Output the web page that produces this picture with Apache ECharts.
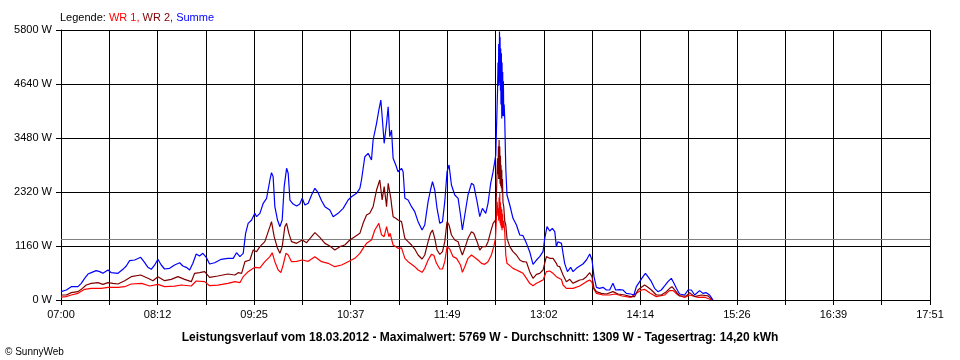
<!DOCTYPE html>
<html>
<head>
<meta charset="utf-8">
<script src="https://cdn.jsdelivr.net/npm/echarts@6/dist/echarts.min.js"></script>
<style>html,body{margin:0;padding:0;background:#fff}#c{width:960px;height:360px}</style>
</head>
<body>
<div id="c"></div>
<script>
// Time axis: minutes after 07:00 (axis 07:00 .. 17:51)
const startMin = 420;
const endMin = 651;
const tickCount = 18;
const yTicks = [0, 1160, 2320, 3480, 4640, 5800];
const avgW = 1309;
const titleText = 'Leistungsverlauf vom 18.03.2012 - Maximalwert: 5769 W - Durchschnitt: 1309 W - Tagesertrag: 14,20 kWh';
const seriesNames = ['WR 1', 'WR 2', 'Summe'];

// Summe (blue)
const sumMin = [0,4.0,7.7,12.7,15.2,17.7,20.2,22.7,26.4,29.0,31.4,35.2,37.7,42.7,46.4,48.9,51.4,55.2,59.7,62.7,65.1,67.6,70.2,72.6,75.1,77.6,81.4,85.1,88.9,91.3,93.8,96.4,98.8,101.3,103.8,106.3,108.8,111.3,115.1,120.0,125.0,129.0,131.5,134.0,136.5,138.3,140.2,142.8,145.2,146.5,149.0,151.5,154.0,156.5,157.7,158.9,160.2,162.2,164.0,165.7,167.2,169.0,170.2,171.5,173.9,176.5,178.9,180.7,182.7,185.2,187.7,190.2,192.6,195.2,197.7,201.4,203.9,207.6,211.4,215.1,217.6,221.4,223.9,225.1,227.6,230.1,232.6,233.8,236.4,238.1,239.6,240.6,242.1,243.9,245.1,246.3,247.6,248.8,250.8,252.5,255.1,256.3,257.6,260.0,262.6,265.0,267.5,270.5,272.5,275.0,276.8,278.3,280.0,281.7,283.8,285.8,287.5,289.2,290.7,292.5,295.0,297.5,299.3,300.7,302.5,304.9,307.5,309.2,311.7,313.7,315.7,318.2,319.9,321.9,323.7,325.7,327.0,327.4,327.7,327.9,328.2,328.5,328.7,328.9,329.2,329.4,329.6,329.9,330.2,330.4,330.7,330.9,331.1,331.4,331.7,332.0,332.4,333.2,334.1,336.2,338.6,341.2,343.7,346.1,348.7,351.1,353.6,356.2,358.6,361.1,362.4,364.1,366.1,368.1,369.9,371.1,372.3,374.9,377.3,379.4,381.8,383.6,386.1,388.6,391.0,393.6,396.1,397.8,399.3,401.1,403.5,406.0,408.6,411.0,413.5,415.5,418.5,421.0,423.5,426.8,429.2,431.0,433.5,436.0,437.8,439.7,442.3,444.7,447.2,449.7,452.2,454.7,457.2,459.2,461.0,463.4,467.2,469.7,472.2,474.7,478.4,480.9,483.4,485.9,487.6,488.4];
const sumW = [180,215,286,286,358,466,558,587,630,609,573,644,587,573,659,730,845,859,917,801,702,659,752,874,752,666,680,752,801,730,702,644,788,988,945,1003,917,773,801,874,895,895,1016,931,1003,1432,1647,1718,1862,1790,1862,2077,2184,2578,2735,2650,2005,1718,1575,1718,2434,2829,2722,2148,2062,2019,2062,2184,2041,2080,2255,2399,2305,2133,2005,1933,1790,1862,1969,2148,2219,2292,2399,2578,3078,3150,3007,3437,3795,4081,4296,3937,3366,3795,4152,3508,3651,3043,2900,2756,2829,2756,2184,2148,2005,1897,1683,1504,1611,2112,2363,2541,2363,1969,1647,1683,2112,2756,2900,2470,2255,2184,1826,1504,1826,2255,2506,2470,2112,1790,1969,1862,2077,2506,2756,3114,4474,5100,4600,5500,4650,5769,4700,5650,4500,5400,4200,5300,3900,5100,4000,4900,3950,4700,3950,4200,3900,2829,2255,2041,1755,1611,1396,1382,1217,1038,766,859,931,1038,1325,1575,1482,1540,1468,1146,1253,1217,788,609,702,609,680,730,773,859,988,859,501,272,251,272,215,215,358,215,222,215,143,129,107,286,394,501,573,501,394,251,179,215,301,394,466,358,251,129,107,215,215,107,201,143,158,107,36,0];

// WR 2 (dark red)
const wr2Min = [0,4.0,7.7,12.7,15.2,18.9,22.7,27.7,31.4,35.2,38.9,42.7,47.7,52.6,59.7,65.1,68.9,72.6,77.6,82.6,87.6,92.6,97.6,100.1,103.8,107.6,111.3,117.5,125.0,130.3,132.7,135.3,137.8,141.5,144.0,146.5,149.0,152.7,156.5,157.7,159.7,162.2,164.0,165.7,167.7,169.0,170.7,172.7,176.5,180.7,184.0,187.7,190.2,193.9,197.7,201.4,205.1,208.9,212.6,216.4,220.1,223.9,226.3,228.9,231.3,233.8,236.4,238.8,240.6,242.1,243.9,245.1,247.1,247.8,248.8,250.8,252.5,255.1,257.6,260.0,262.6,265.0,267.5,270.5,272.5,275.0,276.8,278.3,280.0,281.7,283.8,285.8,287.5,289.2,290.7,292.5,295.0,297.5,299.3,300.7,302.5,304.9,307.5,309.2,311.7,313.7,315.7,318.2,319.9,321.9,323.7,325.5,326.4,327.0,327.4,327.7,327.9,328.2,328.5,328.7,328.9,329.2,329.4,329.6,329.9,330.2,330.4,330.7,331.1,331.7,332.4,333.2,334.1,336.2,338.6,341.2,343.7,346.1,348.7,351.1,353.6,356.2,358.6,361.1,363.6,366.1,368.6,369.9,371.1,371.9,373.6,376.1,378.6,381.1,383.6,386.1,388.6,391.0,393.6,396.1,397.8,399.3,401.1,404.8,408.6,413.5,417.3,422.3,426.8,429.7,432.2,434.8,437.2,439.7,442.3,446.0,449.7,453.5,456.0,457.7,459.7,463.4,468.5,470.9,474.7,479.7,484.6,487.6];
const wr2W = [107,107,158,180,229,322,358,372,337,372,358,344,415,501,537,466,415,501,415,444,501,444,394,573,587,609,487,516,558,537,587,573,823,859,1074,1038,1146,1253,1575,1683,1360,1110,1003,1146,1575,1647,1432,1253,1217,1289,1230,1360,1446,1346,1217,1160,1074,1146,1181,1289,1360,1432,1647,1826,1862,2005,2363,2578,2148,2434,2005,2506,2184,2005,1790,1755,1720,1683,1325,1253,1181,1095,967,881,967,1253,1432,1504,1325,1074,981,1038,1253,1683,1611,1396,1289,1253,1074,967,1110,1325,1468,1432,1253,1074,1146,1146,1253,1468,1647,1718,2470,3043,2700,3300,2600,3437,2600,3300,2500,3100,2450,2900,2400,2800,2300,2600,2100,2000,1700,1611,1325,1146,1038,967,859,823,816,609,466,552,573,644,931,895,895,931,788,730,716,537,394,444,358,394,430,440,501,587,501,251,179,143,129,179,129,107,72,72,215,272,322,272,215,107,107,179,251,286,215,86,86,158,72,107,90,14];

// WR 1 (red)
const wr1Min = [0,3.7,7.7,12.7,17.7,22.7,30.2,35.2,42.7,47.7,52.6,60.4,66.4,72.6,77.6,85.1,90.1,97.6,101.3,107.6,111.3,117.5,125.0,130.3,134.0,136.5,140.2,145.2,149.0,152.7,156.5,158.2,160.2,162.7,164.7,166.4,168.5,170.2,172.7,176.5,180.7,185.2,190.2,195.2,200.1,205.1,210.2,215.1,220.1,223.9,226.3,228.9,232.6,235.1,238.1,240.1,242.1,243.9,245.6,246.6,247.8,248.8,250.1,252.5,255.1,257.6,260.0,262.6,265.0,267.5,270.5,272.5,275.0,277.5,279.3,281.3,283.8,285.8,287.5,289.2,291.2,293.7,296.3,299.3,300.7,302.5,304.9,307.5,309.2,312.4,315.0,317.4,319.9,322.4,324.2,325.5,326.7,327.4,327.7,327.9,328.2,328.5,328.7,328.9,329.2,329.4,329.6,329.9,330.2,330.4,330.7,331.1,331.7,332.4,333.2,334.1,336.2,338.6,341.2,343.7,346.1,348.7,351.1,353.6,356.2,358.6,361.1,363.6,366.1,368.6,369.9,371.1,372.3,374.9,376.1,378.6,383.6,388.6,393.6,396.1,397.8,398.8,401.1,406.0,411.0,415.3,420.3,426.8,431.0,434.8,437.2,441.5,446.0,452.2,455.8,458.5,462.2,467.2,471.0,477.2,482.2,487.6];
const wr1W = [60,72,107,143,229,251,251,272,272,286,344,358,301,337,286,300,322,301,408,394,308,320,358,394,372,501,609,702,690,823,931,1016,823,644,587,752,1003,967,823,830,859,830,931,823,788,716,752,823,895,1003,1110,1217,1289,1504,1647,1400,1360,1575,1360,1432,1289,1181,1146,1110,1120,895,823,766,716,644,595,680,859,981,960,788,666,666,823,1146,1095,931,895,752,595,716,895,967,931,859,788,766,823,967,1146,1325,2112,1800,1969,1700,2200,1750,2292,1650,2100,1600,2000,1550,1950,1500,1850,1550,1700,1468,967,788,738,680,644,609,573,466,358,308,358,394,430,609,623,573,537,501,466,440,322,251,251,300,394,430,380,258,143,107,107,129,86,57,143,215,229,143,72,107,201,201,107,57,107,57,60,0];

const colors = ['#ff0000', '#800000', '#0000ff'];
const FONT = '"Liberation Sans", Arial, sans-serif';

function pairs(t, v) { return t.map((x, i) => [x, v[i]]); }
function fmtTime(m) {
  const total = Math.round(startMin + m);
  const h = Math.floor(total / 60), mm = total % 60;
  return String(h).padStart(2, '0') + ':' + String(mm).padStart(2, '0');
}
const step = endMin / tickCount;

const chart = echarts.init(document.getElementById('c'), null, { renderer: 'canvas' });
chart.setOption({
  animation: false,
  backgroundColor: '#ffffff',
  title: [{
    left: 60, top: 12, padding: 0,
    text: '{k|Legende: }{a|' + seriesNames[0] + ', }{b|' + seriesNames[1] + ', }{c|' + seriesNames[2] + '}',
    textStyle: { fontWeight: 'normal', fontSize: 11, fontFamily: FONT, rich: {
      k: { color: '#000', fontSize: 11, fontWeight: 'normal', fontFamily: FONT },
      a: { color: colors[0], fontSize: 11, fontWeight: 'normal', fontFamily: FONT },
      b: { color: colors[1], fontSize: 11, fontWeight: 'normal', fontFamily: FONT },
      c: { color: colors[2], fontSize: 11, fontWeight: 'normal', fontFamily: FONT }
    } }
  }, {
    left: 'center', top: 332, padding: 0,
    text: titleText,
    textStyle: { color: '#000', fontSize: 12, fontWeight: 'bold', fontFamily: FONT }
  }, {
    left: 5, top: 347, padding: 0,
    text: '© SunnyWeb',
    textStyle: { color: '#000', fontSize: 10, fontWeight: 'normal', fontFamily: FONT }
  }],
  grid: { left: 61, right: 30, top: 30, bottom: 60 },
  xAxis: {
    type: 'value', min: 0, max: endMin, interval: step,
    axisLine: { show: true, lineStyle: { color: '#000', width: 1 } },
    axisTick: { show: true, length: 5, lineStyle: { color: '#000' } },
    splitLine: { show: true, lineStyle: { color: '#000', width: 1 } },
    axisLabel: {
      color: '#000', fontSize: 11, fontFamily: FONT, margin: 9,
      showMinLabel: true, showMaxLabel: true, hideOverlap: false,
      formatter: function (v) {
        const idx = Math.round(v / step);
        if (idx % 2 !== 0) return '';
        return fmtTime(v);
      }
    }
  },
  yAxis: {
    type: 'value', min: yTicks[0], max: yTicks[yTicks.length - 1], interval: yTicks[1] - yTicks[0],
    axisLine: { show: true, lineStyle: { color: '#000', width: 1 } },
    axisTick: { show: true, length: 5, lineStyle: { color: '#000' } },
    splitLine: { show: true, lineStyle: { color: '#000', width: 1 } },
    axisLabel: { color: '#000', fontSize: 11, fontFamily: FONT, margin: 9, formatter: v => v + ' W' }
  },
  series: [
    { name: seriesNames[0], type: 'line', data: pairs(wr1Min, wr1W), showSymbol: false, symbol: 'none',
      lineStyle: { color: colors[0], width: 1.2 }, itemStyle: { color: colors[0] }, z: 3,
      markLine: { silent: true, symbol: 'none', label: { show: false }, lineStyle: { color: '#808080', width: 1, type: 'solid' }, data: [{ yAxis: avgW }], z: 1 } },
    { name: seriesNames[1], type: 'line', data: pairs(wr2Min, wr2W), showSymbol: false, symbol: 'none',
      lineStyle: { color: colors[1], width: 1.2 }, itemStyle: { color: colors[1] }, z: 4 },
    { name: seriesNames[2], type: 'line', data: pairs(sumMin, sumW), showSymbol: false, symbol: 'none',
      lineStyle: { color: colors[2], width: 1.2 }, itemStyle: { color: colors[2] }, z: 5 }
  ]
});
</script>
</body>
</html>
